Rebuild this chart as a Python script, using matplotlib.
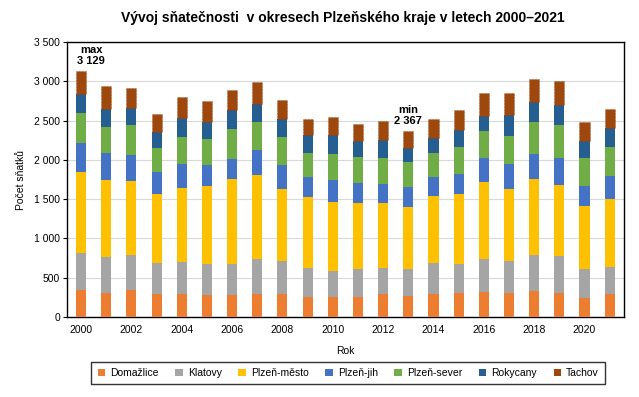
import matplotlib
matplotlib.use("Agg")
import matplotlib.pyplot as plt
import numpy as np
from matplotlib.ticker import FuncFormatter, MultipleLocator

plt.rcParams['font.family'] = ['Liberation Sans', 'DejaVu Sans']

years = list(range(2000, 2022))
districts = ["Domažlice", "Klatovy", "Plzeň-město", "Plzeň-jih", "Plzeň-sever", "Rokycany", "Tachov"]
colors = ["#ED7D31", "#A5A5A5", "#FFC000", "#4472C4", "#70AD47", "#255E91", "#9E480E"]

domazlice = [348, 306, 348, 297, 297, 280, 280, 297, 297, 255, 255, 255, 293, 267, 293, 306, 318, 306, 331, 306, 242, 293]
klatovy   = [467, 458, 441, 391, 408, 399, 399, 441, 416, 373, 331, 356, 331, 344, 395, 369, 420, 407, 458, 471, 369, 344]
plzen_mesto = [1031, 980, 943, 878, 937, 989, 1078, 1070, 917, 900, 878, 840, 827, 790, 853, 891, 981, 917, 968, 904, 802, 865]
plzen_jih = [369, 344, 331, 280, 306, 267, 255, 322, 305, 254, 280, 255, 242, 254, 241, 255, 305, 318, 318, 343, 255, 293]
plzen_sever = [382, 331, 382, 306, 344, 331, 382, 353, 357, 306, 331, 331, 331, 318, 306, 343, 344, 357, 408, 421, 356, 369]
rokycany = [246, 229, 220, 208, 246, 221, 246, 233, 229, 229, 242, 204, 234, 183, 195, 221, 195, 267, 259, 254, 217, 247]
tachov = [286, 293, 251, 225, 263, 263, 250, 276, 242, 204, 229, 216, 237, 211, 238, 251, 289, 280, 288, 306, 242, 237]

series = [domazlice, klatovy, plzen_mesto, plzen_jih, plzen_sever, rokycany, tachov]

fig = plt.figure(figsize=(6.39, 3.97), dpi=100)
ax = fig.add_axes([0.1049, 0.2015, 0.8716, 0.6927])

x = np.arange(len(years))
bottom = np.zeros(len(years))
for name, vals, c in zip(districts, series, colors):
    vals = np.array(vals, dtype=float)
    if name == "Tachov":
        ax.bar(x, vals, 0.4, bottom=bottom, color=c, label=name, zorder=3,
               edgecolor="#8a3c0a", linewidth=0.4, linestyle=":")
    else:
        ax.bar(x, vals, 0.4, bottom=bottom, color=c, label=name, zorder=3)
    bottom += vals

totals = bottom
imax = int(np.argmax(totals))
imin = int(np.argmin(totals))
fmt = lambda v: f"{int(round(v)):,}".replace(",", " ")
ax.text(imax + 0.4, totals[imax] + 60, "max\n" + fmt(totals[imax]), ha="center", va="bottom",
        fontsize=8, fontweight="bold", linespacing=1.15)
ax.text(imin, totals[imin] + 60, "min\n" + fmt(totals[imin]), ha="center", va="bottom",
        fontsize=8, fontweight="bold", linespacing=1.15)

ax.set_ylim(0, 3500)
ax.set_xlim(-0.56, len(years) - 1 + 0.57)
ax.yaxis.set_major_locator(MultipleLocator(500))
ax.yaxis.set_major_formatter(FuncFormatter(lambda v, p: fmt(v)))
ax.set_xticks(x[::2])
ax.set_xticklabels([str(y) for y in years[::2]])
ax.tick_params(axis="x", length=0, labelsize=7.5, pad=6)
ax.tick_params(axis="y", length=3, labelsize=7.5, pad=2)
ax.grid(axis="y", color="#d9d9d9", linewidth=0.8, zorder=0)
ax.set_axisbelow(True)
for s in ax.spines.values():
    s.set_linewidth(1.0)
    s.set_color("black")

ax.set_xlabel("Rok", fontsize=7.5, labelpad=8)
ax.set_ylabel("Počet sňatků", fontsize=7.5, labelpad=6)
fig.text(0.537, 0.955, "Vývoj sňatečnosti  v okresech Plzeňského kraje v letech 2000–2021",
         ha="center", va="center", fontsize=10, fontweight="bold")

leg = fig.legend(loc="center", bbox_to_anchor=(0.545, 0.0605), ncol=7, fontsize=7.5,
                 frameon=True, fancybox=False, edgecolor="black", handlelength=0.7,
                 handleheight=0.7, handletextpad=0.5, columnspacing=1.6, borderpad=0.6)
leg.get_frame().set_linewidth(1.0)
for h in leg.legend_handles:
    h.set_linestyle("-")
    h.set_edgecolor("none")

fig.savefig("out.png", dpi=100)
